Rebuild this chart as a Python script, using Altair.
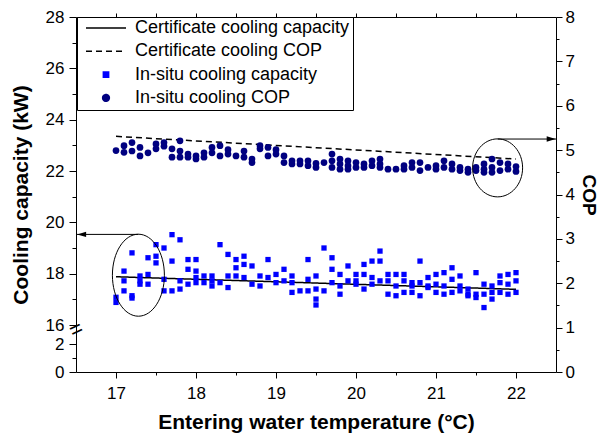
import altair as alt
import pandas as pd

FONT = "Liberation Sans"

# ---------------- data ----------------
series_names = ["Certificate cooling capacity", "Certificate cooling COP",
                "In-situ cooling capacity", "In-situ cooling COP"]

cert_temp = [17.0, 22.0]
cert_capacity = [17.88, 17.39]
cert_cop = [5.31, 4.80]

column_temps = [17.0, 17.1, 17.2, 17.3, 17.4, 17.5, 17.6, 17.7, 17.8, 17.9,
                18.0, 18.1, 18.2, 18.3, 18.4, 18.5, 18.6, 18.7, 18.8, 18.9,
                19.0, 19.1, 19.2, 19.3, 19.4, 19.5, 19.6, 19.7, 19.8, 19.9,
                20.0, 20.1, 20.2, 20.3, 20.4, 20.5, 20.6, 20.7, 20.8, 20.9,
                21.0, 21.1, 21.2, 21.3, 21.4, 21.5, 21.6, 21.7, 21.8, 21.9,
                22.0]

insitu_capacity = [
    [17.08, 16.88], [18.10, 17.72, 17.33], [18.81, 17.14, 17.05], [17.91, 17.72, 17.59],
    [18.62, 17.97, 17.59], [19.13, 18.68, 18.42], [19.00, 17.78, 17.33], [19.52, 18.49, 17.33],
    [19.32, 17.72, 17.40], [18.55, 18.17, 17.59], [18.55, 18.10, 17.85, 17.65], [17.91, 17.65],
    [17.91, 17.72, 17.52], [19.13, 17.65], [18.75, 17.91, 17.46], [18.55, 18.23, 17.91],
    [18.68, 18.36, 17.85], [18.30, 17.59], [17.91, 17.52], [18.55, 17.85],
    [17.97, 17.65], [18.17, 17.72], [17.91, 17.65, 17.27], [17.33],
    [18.55, 17.78, 17.33], [17.91, 17.40, 17.01, 16.78], [19.00, 17.33], [18.62, 18.17, 17.65],
    [17.97, 17.52, 17.20], [18.30, 17.72], [17.97, 17.72, 17.59], [18.36, 17.97, 17.40],
    [18.49, 17.85, 17.59], [18.88, 18.49, 17.72], [17.97, 17.72, 17.20], [17.97, 17.52, 17.14],
    [17.97, 17.72, 17.27], [17.65, 17.52, 17.27], [18.49, 17.65, 17.14], [17.85, 17.52, 17.46],
    [17.97, 17.59, 17.27], [18.04, 17.52, 17.20], [18.23, 17.78, 17.27], [17.91, 17.52, 17.33],
    [17.40, 17.20, 17.14], [18.04, 17.20, 17.07], [17.59, 17.20, 16.68], [17.52, 17.27, 17.01],
    [17.91, 17.65, 17.27], [17.97, 17.59, 17.20], [18.04, 17.72, 17.27],
]

insitu_cop = [
    [4.99], [5.10, 4.95], [5.17, 4.98], [5.06, 4.87], [4.94],
    [5.14, 5.03], [5.17, 5.09], [5.03, 4.84], [5.21, 4.98, 4.84], [4.91, 4.84],
    [4.87, 4.80], [4.94, 4.84], [5.06, 4.94], [5.10, 4.87], [5.01, 4.91],
    [4.87], [4.98, 4.84], [4.80, 4.72], [5.10, 5.03], [5.06, 4.87],
    [5.01, 4.91], [4.87, 4.72], [4.76, 4.69], [4.76, 4.69], [4.76, 4.65],
    [4.70, 4.61], [4.72], [4.91, 4.76, 4.61], [4.80, 4.69, 4.57], [4.76, 4.65, 4.57],
    [4.72, 4.61], [4.69, 4.61], [4.76, 4.65], [4.80, 4.69, 4.61], [4.57],
    [4.57], [4.65, 4.57], [4.72, 4.61], [4.72, 4.54], [4.61],
    [4.65, 4.57], [4.76, 4.61], [4.69, 4.57], [4.61, 4.54], [4.57, 4.50],
    [4.61, 4.54], [4.69, 4.57, 4.50], [4.80, 4.61, 4.50], [4.72, 4.54], [4.69, 4.57],
    [4.63, 4.52],
]

# annotation anchors (data units)
ellipse_cap_center = [17.28, 17.94]
ellipse_cop_center = [21.77, 4.60]
arrow_cap_level = 19.53
arrow_cop_level = 5.25

# ---------------- styles ----------------
series_colors = ["#000000", "#000000", "#0000ff", "#000080"]
series_shapes = ["stroke", "stroke", "square", "circle"]
series_sizes = [1600, 1600, 28, 45]
series_dashes = [[1, 0], [6, 4], [1, 0], [1, 0]]

# ---------------- tables ----------------
cert_cap_df = pd.DataFrame({"temp": cert_temp, "val": cert_capacity, "series": series_names[0]})
cert_cop_df = pd.DataFrame({"temp": cert_temp, "val": cert_cop, "series": series_names[1]})
cap_rows = [(t, v) for t, vals in zip(column_temps, insitu_capacity) for v in vals]
cop_rows = [(t, v) for t, vals in zip(column_temps, insitu_cop) for v in vals]
cap_df = pd.DataFrame(cap_rows, columns=["temp", "val"]).assign(series=series_names[2])
cop_df = pd.DataFrame(cop_rows, columns=["temp", "val"]).assign(series=series_names[3])

# ---------------- scales / axes ----------------
x_scale = alt.Scale(domain=[16.5, 22.5], nice=False, zero=False)
cap_scale = alt.Scale(type="linear", domain=[0, 2, 16, 28], range=[355, 327, 308, 0],
                      nice=False, zero=False)
cop_scale = alt.Scale(domain=[0, 8], nice=False, zero=False)

color_scale = alt.Scale(domain=series_names, range=series_colors)
shape_scale = alt.Scale(domain=series_names, range=series_shapes)
size_scale = alt.Scale(type="ordinal", domain=series_names, range=series_sizes)
dash_scale = alt.Scale(domain=series_names, range=series_dashes)

x_ticks = [17 + 0.5 * i for i in range(11)]
common_axis = dict(grid=False, domainColor="black", tickColor="black", labelColor="black",
                   titleColor="black", labelFont=FONT, titleFont=FONT, labelFontSize=17,
                   titleFontSize=21, titleFontWeight="bold", labelOverlap=False,
                   labelFlush=False, domainWidth=1, tickWidth=1)

x_axis_bottom = alt.Axis(orient="bottom", values=x_ticks,
                         labelExpr="datum.value % 1 != 0 ? '' : format(datum.value, 'd')",
                         tickSize={"condition": {"test": "datum.value % 1 != 0", "value": 3}, "value": 6},
                         title="Entering water temperature (°C)", labelPadding=7, titlePadding=10,
                         **common_axis)
x_axis_top = alt.Axis(orient="top", values=x_ticks, labels=False, tickSize=4, title="",
                      **common_axis)
cap_axis = alt.Axis(orient="left", values=[0, 1, 2] + list(range(16, 29)),
                    labelExpr="datum.value % 2 == 1 ? '' : format(datum.value, 'd')",
                    tickSize={"condition": {"test": "datum.value % 2 == 1", "value": 4}, "value": 7},
                    title="Cooling capacity (kW)", labelPadding=5, titlePadding=14,
                    **common_axis)
cop_axis = alt.Axis(orient="right", values=[0.5 * i for i in range(17)],
                    labelExpr="datum.value % 1 != 0 ? '' : format(datum.value, 'd')",
                    tickSize={"condition": {"test": "datum.value % 1 != 0", "value": 3}, "value": 6},
                    title="COP", labelPadding=3, titlePadding=4,
                    **{**common_axis, "titleFontSize": 19})

legend = alt.Legend(title=None, orient="none", legendX=1, legendY=0, strokeColor="black",
                    fillColor="white", padding=3, rowPadding=5.3, clipHeight=16,
                    labelFont=FONT, labelFontSize=18, labelColor="black", labelLimit=400,
                    symbolOffset=5, labelOffset=8, symbolStrokeWidth=1.5)

def xenc(axis):
    return alt.X("temp:Q", scale=x_scale, axis=axis)

# ---------------- capacity group ----------------
cap_line = alt.Chart(cert_cap_df).mark_line(strokeWidth=1.5).encode(
    x=xenc(x_axis_bottom),
    y=alt.Y("val:Q", scale=cap_scale, axis=cap_axis),
    color=alt.Color("series:N", scale=color_scale, legend=legend),
    strokeDash=alt.StrokeDash("series:N", scale=dash_scale, legend=legend),
)
cap_pts = alt.Chart(cap_df).mark_point(filled=True, opacity=1).encode(
    x=xenc(x_axis_bottom),
    y=alt.Y("val:Q", scale=cap_scale, axis=cap_axis),
    color=alt.Color("series:N", scale=color_scale, legend=legend),
    shape=alt.Shape("series:N", scale=shape_scale, legend=legend),
    size=alt.Size("series:N", scale=size_scale, legend=legend),
)

def ellipse_path(a, b):
    k = 0.5523
    r = lambda v: round(v, 3)
    return (f"M {r(a)} 0 C {r(a)} {r(k*b)} {r(k*a)} {r(b)} 0 {r(b)} "
            f"C {r(-k*a)} {r(b)} {r(-a)} {r(k*b)} {r(-a)} 0 "
            f"C {r(-a)} {r(-k*b)} {r(-k*a)} {r(-b)} 0 {r(-b)} "
            f"C {r(k*a)} {r(-b)} {r(a)} {r(-k*b)} {r(a)} 0 Z")

ell_cap_df = pd.DataFrame({"temp": [ellipse_cap_center[0]], "val": [ellipse_cap_center[1]]})
ell_cap = alt.Chart(ell_cap_df).mark_point(
    shape=ellipse_path(26 / 41, 1.0), size=(2 * 41) ** 2, filled=False,
    color="black", strokeWidth=1, opacity=1,
).encode(x=xenc(x_axis_bottom), y=alt.Y("val:Q", scale=cap_scale, axis=cap_axis))

arr_cap_df = pd.DataFrame({"temp": [16.5], "temp2": [ellipse_cap_center[0]], "val": [arrow_cap_level]})
arr_cap_line = alt.Chart(arr_cap_df).mark_rule(color="black", strokeWidth=1).encode(
    x=xenc(x_axis_bottom), x2="temp2:Q",
    y=alt.Y("val:Q", scale=cap_scale, axis=cap_axis))
head_cap_df = pd.DataFrame({"temp": [16.57], "val": [arrow_cap_level]})
arr_cap_head = alt.Chart(head_cap_df).mark_point(
    shape="M -1 0 L 1 -0.6 L 1 0.6 Z", size=81, filled=True, color="black", opacity=1,
).encode(x=xenc(x_axis_bottom), y=alt.Y("val:Q", scale=cap_scale, axis=cap_axis))

break_df = pd.DataFrame({"temp": [16.5], "val": [12.7], "txt": ["="]})
break_mark = alt.Chart(break_df).mark_text(
    fontSize=22, angle=335, color="black", font=FONT, align="center", baseline="middle",
).encode(x=xenc(x_axis_bottom), y=alt.Y("val:Q", scale=cap_scale, axis=cap_axis), text="txt:N")

cap_group = alt.layer(cap_line, cap_pts, ell_cap, arr_cap_line, arr_cap_head, break_mark)

# ---------------- COP group ----------------
cop_line = alt.Chart(cert_cop_df).mark_line(strokeWidth=1.5).encode(
    x=xenc(x_axis_top),
    y=alt.Y("val:Q", scale=cop_scale, axis=cop_axis),
    color=alt.Color("series:N", scale=color_scale, legend=legend),
    strokeDash=alt.StrokeDash("series:N", scale=dash_scale, legend=legend),
)
cop_pts = alt.Chart(cop_df).mark_point(filled=True, opacity=1).encode(
    x=xenc(x_axis_top),
    y=alt.Y("val:Q", scale=cop_scale, axis=cop_axis),
    color=alt.Color("series:N", scale=color_scale, legend=legend),
    shape=alt.Shape("series:N", scale=shape_scale, legend=legend),
    size=alt.Size("series:N", scale=size_scale, legend=legend),
)
ell_cop_df = pd.DataFrame({"temp": [ellipse_cop_center[0]], "val": [ellipse_cop_center[1]]})
ell_cop = alt.Chart(ell_cop_df).mark_point(
    shape=ellipse_path(25 / 29, 1.0), size=(2 * 29) ** 2, filled=False,
    color="black", strokeWidth=1, opacity=1,
).encode(x=xenc(x_axis_top), y=alt.Y("val:Q", scale=cop_scale, axis=cop_axis))

arr_cop_df = pd.DataFrame({"temp": [ellipse_cop_center[0]], "temp2": [22.5], "val": [arrow_cop_level]})
arr_cop_line = alt.Chart(arr_cop_df).mark_rule(color="black", strokeWidth=1).encode(
    x=xenc(x_axis_top), x2="temp2:Q",
    y=alt.Y("val:Q", scale=cop_scale, axis=cop_axis))
head_cop_df = pd.DataFrame({"temp": [22.44], "val": [arrow_cop_level]})
arr_cop_head = alt.Chart(head_cop_df).mark_point(
    shape="M 1 0 L -1 -0.6 L -1 0.6 Z", size=81, filled=True, color="black", opacity=1,
).encode(x=xenc(x_axis_top), y=alt.Y("val:Q", scale=cop_scale, axis=cop_axis))

cop_group = alt.layer(cop_line, cop_pts, ell_cop, arr_cop_line, arr_cop_head)

chart = alt.layer(cap_group, cop_group).resolve_scale(
    y="independent"
).resolve_axis(
    x="independent", y="independent"
).properties(
    width=480, height=355,
    padding={"left": 68, "top": 9, "right": 43, "bottom": 62},
    autosize=alt.AutoSizeParams(type="none"),
).configure_view(stroke="transparent")

chart.save("out.html", embed_options={"renderer": "svg", "actions": False})
